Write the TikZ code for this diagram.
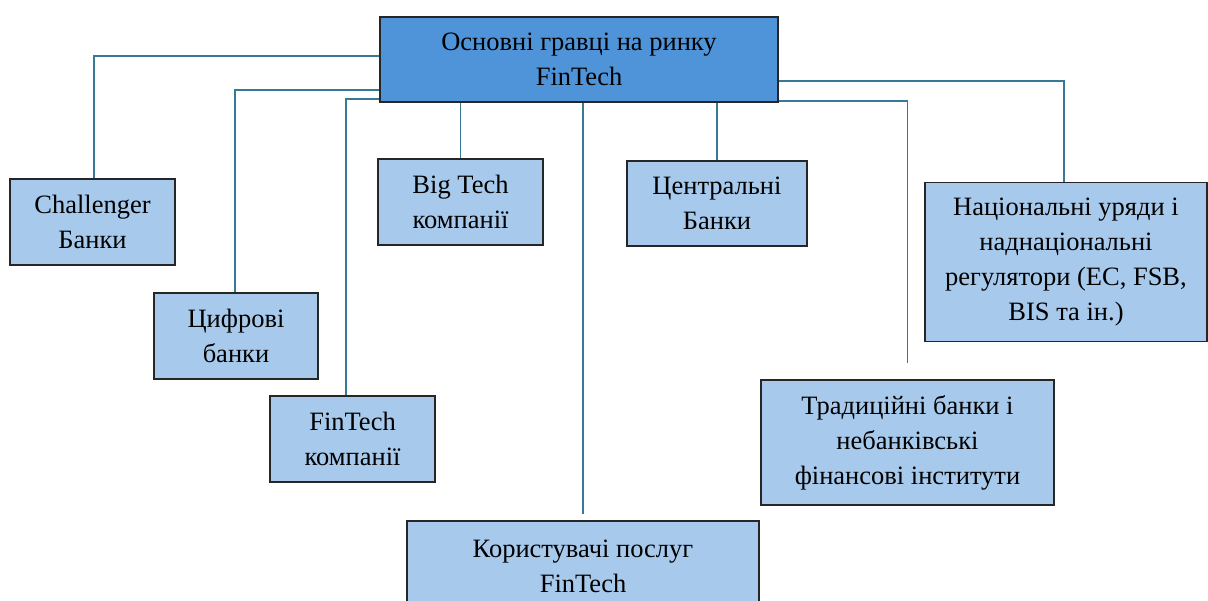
\documentclass[tikz,border=0pt]{standalone}
\usepackage{fontspec}
\setmainfont{Liberation Serif}
\definecolor{mainfill}{RGB}{79,148,216}
\definecolor{boxfill}{RGB}{167,202,236}
\definecolor{linec}{RGB}{55,122,152}
\definecolor{edge}{RGB}{38,38,38}
\tikzset{
  box/.style={draw=edge, line width=1.4pt, fill=boxfill, align=center, inner sep=0pt,
    font=\fontsize{26.5}{35}\selectfont},
  mainbox/.style={box, fill=mainfill},
  conn/.style={draw=linec, line width=1.4pt}
}
\begin{document}
\begin{tikzpicture}[x=1pt,y=-1pt]
\useasboundingbox (0,0) rectangle (1208,601);
\clip (0,0) rectangle (1208,601);
\node[mainbox, minimum width=398pt, minimum height=85pt] (main) at (579,59.5) {Основні гравці на ринку\\FinTech};
\node[box, minimum width=165pt, minimum height=86pt] (chal) at (92.5,222) {Challenger\\Банки};
\node[box, minimum width=164pt, minimum height=86pt] (digi) at (236,336) {Цифрові\\банки};
\node[box, minimum width=165pt, minimum height=86pt] (fint) at (352.5,439) {FinTech\\компанії};
\node[box, minimum width=165pt, minimum height=86pt] (bigt) at (460.5,202) {Big Tech\\компанії};
\node[box, minimum width=180pt, minimum height=85pt] (cent) at (717,203.5) {Центральні\\Банки};
\node[box, minimum width=282pt, minimum height=159pt] (nat) at (1066,262) {Національні уряди і\\наднаціональні\\регулятори (ЕС, FSB,\\BIS та ін.)};
\node[box, minimum width=293pt, minimum height=125pt] (trad) at (907.5,442.5) {Традиційні банки і\\небанківські\\фінансові інститути};
\node[box, minimum width=352pt, minimum height=90pt] (users) at (583,566) {Користувачі послуг\\FinTech};

\draw[conn] ([yshift=3.5pt]main.west) -| ([xshift=1.5pt]chal.north);
\draw[conn] ([yshift=-30.5pt]main.west) -| ([xshift=-1pt]digi.north);
\draw[conn] ([yshift=-39.5pt]main.west) -| ([xshift=-6.5pt]fint.north);
\draw[conn] (main.south -| bigt.north) -- (bigt.north);
\draw[conn] (main.south -| users.north) -- ([yshift=6pt]users.north);
\draw[conn] (main.south -| cent.north) -- (cent.north);
\draw[conn] ([yshift=-41.5pt]main.east) -| ([yshift=16pt]trad.north);
\draw[conn] ([yshift=-21.5pt]main.east) -| ([xshift=-2pt]nat.north);
\end{tikzpicture}
\end{document}
